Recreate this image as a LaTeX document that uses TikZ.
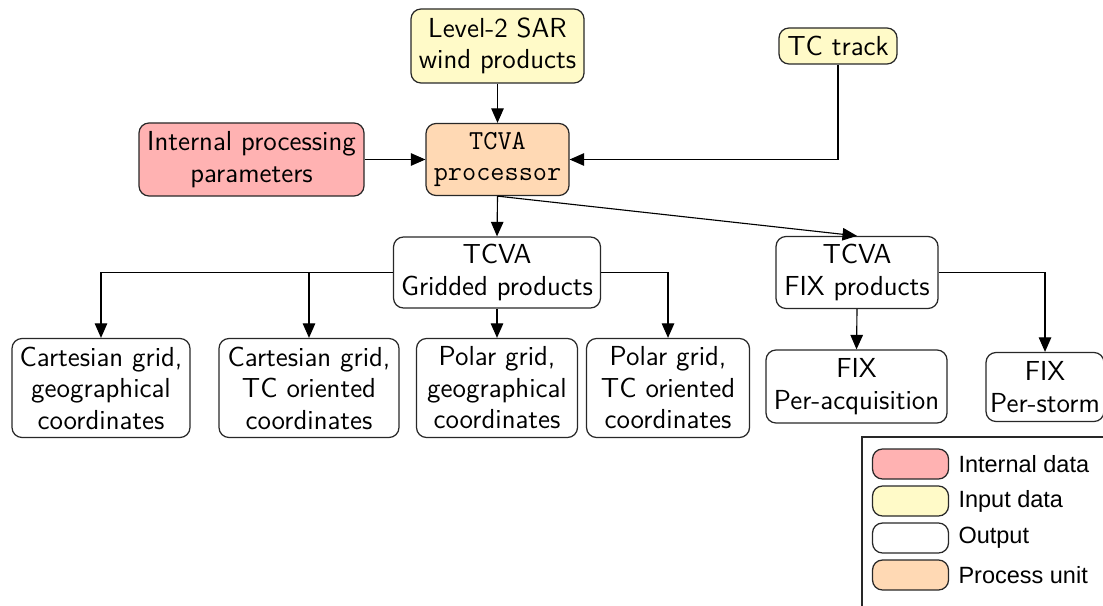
\documentclass[tikz,border=0pt]{standalone}
\usepackage{fontspec}
\usetikzlibrary{arrows.meta}
\newfontfamily\legendfont{Liberation Sans}
\definecolor{internalfill}{RGB}{255,178,178}
\definecolor{inputfill}{RGB}{255,250,200}
\definecolor{processfill}{RGB}{255,217,180}
\definecolor{edgegray}{RGB}{40,40,40}
\tikzset{
  box/.style={draw=edgegray, line width=0.5pt, rounded corners=4pt, align=center,
              inner sep=1.5pt, font=\sffamily\fontsize{11}{12.6}\selectfont, text=black},
  internalbox/.style={box, fill=internalfill},
  inputbox/.style={box, fill=inputfill},
  processbox/.style={box, fill=processfill, font=\ttfamily\fontsize{11}{12.6}\selectfont},
  outputbox/.style={box, fill=white},
  flow/.style={draw=black, line width=0.45pt, -{Triangle[length=5.8pt,width=5pt]}},
  swatch/.style={draw=edgegray, line width=0.5pt, rounded corners=4pt,
                 minimum width=30.4pt, minimum height=12pt, inner sep=0pt},
  legendtext/.style={anchor=west, inner sep=0pt, font=\legendfont\fontsize{9.4}{11}\selectfont}
}
\begin{document}
\begin{tikzpicture}[x=0.4pt, y=-0.4pt]
  \clip (0,0) rectangle (1103,605);

  % inputs and processing unit
  \node[inputbox, minimum width=69.2pt, minimum height=29.6pt] (sar) at (497.5,46) {Level-2 SAR\\wind products};
  \node[inputbox, minimum width=47.2pt, minimum height=14.4pt] (track) at (838,46) {TC track};
  \node[internalbox, minimum width=90pt, minimum height=29.2pt] (param) at (251.5,159.5) {Internal processing\\parameters};
  \node[processbox, minimum width=57.2pt, minimum height=28.8pt] (proc) at (497.5,159.5) {TCVA\\processor};

  % product families
  \node[outputbox, minimum width=82.8pt, minimum height=28.4pt] (grid) at (497,272.5) {TCVA\\Gridded products};
  \node[outputbox, minimum width=64.8pt, minimum height=28.8pt] (fix) at (857,272.5) {TCVA\\FIX products};

  % gridded products
  \node[outputbox, minimum width=71.2pt, minimum height=39.6pt] (cg) at (101,388) {Cartesian grid,\\geographical\\coordinates};
  \node[outputbox, minimum width=72pt, minimum height=39.6pt] (ct) at (309,388) {Cartesian grid,\\TC oriented\\coordinates};
  \node[outputbox, minimum width=64.4pt, minimum height=39.6pt] (pg) at (497,388) {Polar grid,\\geographical\\coordinates};
  \node[outputbox, minimum width=65.2pt, minimum height=39.6pt] (pt) at (668,388) {Polar grid,\\TC oriented\\coordinates};

  % fix products
  \node[outputbox, minimum width=72.4pt, minimum height=29.2pt] (pa) at (856.5,386.5) {FIX\\Per-acquisition};
  \node[outputbox, minimum width=47.2pt, minimum height=27.6pt] (ps) at (1045,387) {FIX\\Per-storm};

  % connectors
  \draw[flow] (sar) -- (proc);
  \draw[flow] (param) -- (proc);
  \draw[flow] (track.south) |- (proc.east);
  \draw[flow] (proc.south) -- (grid.north);
  \draw[flow] (proc.south) -- (fix.north);
  \draw[flow] (grid.west) -| (cg.north);
  \draw[flow] (grid.west) -| (ct.north);
  \draw[flow] (grid.south) -- (pg.north);
  \draw[flow] (grid.east) -| (pt.north);
  \draw[flow] (fix.south) -- (pa.north);
  \draw[flow] (fix.east) -| (ps.north);

  % legend
  \draw[edgegray, line width=0.5pt] (862,437) rectangle (1120,620);
  \node[swatch, fill=internalfill] (lg1) at (910.5,464) {};
  \node[swatch, fill=inputfill] (lg2) at (910.5,501) {};
  \node[swatch, fill=white] (lg3) at (910.5,538) {};
  \node[swatch, fill=processfill] (lg4) at (910.5,575) {};
  \node[legendtext] (lt1) at (958,464) {Internal data};
  \node[legendtext] (lt2) at (958,501) {Input data};
  \node[legendtext] (lt3) at (958,538) {Output};
  \node[legendtext] (lt4) at (958,575) {Process unit};
\end{tikzpicture}
\end{document}
